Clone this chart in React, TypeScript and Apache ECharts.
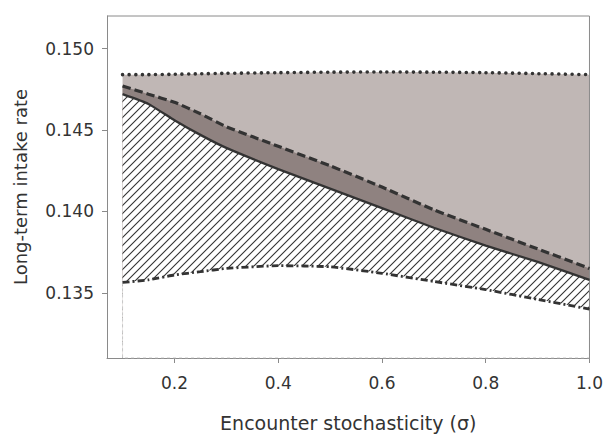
import React, { useEffect, useRef } from "react";
import * as echarts from "echarts";

const sigma = [0.1, 0.15, 0.2, 0.25, 0.3, 0.4, 0.5, 0.6, 0.7, 0.8, 0.9, 1.0];
const dottedUpper = [0.1484, 0.1484, 0.14842, 0.14845, 0.14848, 0.14852, 0.14855, 0.14856, 0.14855, 0.14852, 0.14846, 0.1484];
const dashedLine = [0.1477, 0.1472, 0.1467, 0.146, 0.1452, 0.144, 0.1428, 0.1415, 0.1401, 0.1389, 0.1377, 0.1365];
const solidLine = [0.1472, 0.1466, 0.1456, 0.1447, 0.1439, 0.1426, 0.1414, 0.1402, 0.139, 0.1379, 0.1369, 0.1358];
const dashDotLower = [0.13564, 0.1358, 0.1361, 0.1363, 0.1365, 0.13667, 0.1366, 0.1362, 0.1357, 0.1352, 0.1346, 0.134];

const xTicks = [0.2, 0.4, 0.6, 0.8, 1.0];
const yTicks = [0.135, 0.14, 0.145, 0.15];
const xMin = 0.07;
const xMax = 1.0;
const yMin = 0.131;
const yMax = 0.152;

const pair = (ys: number[]) => sigma.map((x, i) => [x, ys[i]]);

function hatchCanvas() {
  const s = 8;
  const c = document.createElement("canvas");
  c.width = s;
  c.height = s;
  const ctx = c.getContext("2d")!;
  ctx.fillStyle = "#ffffff";
  ctx.fillRect(0, 0, s, s);
  ctx.strokeStyle = "#333333";
  ctx.lineWidth = 1.1;
  ctx.beginPath();
  ctx.moveTo(-1, s + 1);
  ctx.lineTo(s + 1, -1);
  ctx.moveTo(-1, 1);
  ctx.lineTo(1, -1);
  ctx.moveTo(s - 1, s + 1);
  ctx.lineTo(s + 1, s - 1);
  ctx.stroke();
  return c;
}

export default function App() {
  const ref = useRef<HTMLDivElement>(null);
  useEffect(() => {
    const chart = echarts.init(ref.current!, undefined, { renderer: "svg" });
    const font = "DejaVu Sans";
    const axisGray = "#8a8a8a";
    const lineColor = "#333333";
    const smooth = 0.15;
    const areaSeries = (ys: number[], color: any) => ({
      type: "line",
      data: pair(ys),
      smooth,
      showSymbol: false,
      silent: true,
      lineStyle: { width: 0, opacity: 0 },
      areaStyle: { color, opacity: 1, origin: "start" },
    });
    const lineSeries = (ys: number[], width: number, type: any, cap = "butt") => ({
      type: "line",
      data: pair(ys),
      smooth,
      showSymbol: false,
      silent: true,
      lineStyle: { color: lineColor, width, type, cap },
    });
    const frameSeries = (pts: number[][]) => ({
      type: "line",
      data: pts,
      showSymbol: false,
      silent: true,
      clip: false,
      lineStyle: { color: axisGray, width: 1, type: "solid" },
    });
    chart.setOption({
      animation: false,
      textStyle: { fontFamily: font },
      grid: { left: 107, right: 13, top: 16, bottom: 74 },
      xAxis: {
        type: "value",
        min: xMin,
        max: xMax,
        name: "Encounter stochasticity (σ)",
        nameLocation: "middle",
        nameGap: 55,
        nameTextStyle: { fontSize: 19, color: "#333", fontFamily: font },
        axisLine: { show: true, lineStyle: { color: axisGray, width: 1 } },
        axisTick: { show: true, length: 5, lineStyle: { color: axisGray }, customValues: xTicks },
        axisLabel: {
          fontSize: 17,
          color: "#333",
          margin: 16,
          customValues: xTicks,
          formatter: (v: number) => v.toFixed(1),
        },
        splitLine: { show: false },
      },
      yAxis: {
        type: "value",
        min: yMin,
        max: yMax,
        name: "Long-term intake rate",
        nameLocation: "middle",
        nameGap: 78,
        nameTextStyle: { fontSize: 18, color: "#333", fontFamily: font },
        axisLine: { show: true, lineStyle: { color: axisGray, width: 1 } },
        axisTick: { show: true, length: 5, lineStyle: { color: axisGray }, customValues: yTicks },
        axisLabel: {
          fontSize: 17,
          color: "#333",
          margin: 13,
          customValues: yTicks,
          formatter: (v: number) => v.toFixed(3),
        },
        splitLine: { show: false },
      },
      series: [
        areaSeries(dottedUpper, "#c0b7b5"),
        areaSeries(dashedLine, "#8f8280"),
        areaSeries(solidLine, { image: hatchCanvas(), repeat: "repeat" }),
        areaSeries(dashDotLower, "#ffffff"),
        {
          type: "line",
          data: [
            [sigma[0], dashDotLower[0]],
            [sigma[0], yMin],
            [sigma[sigma.length - 1], yMin],
          ],
          showSymbol: false,
          silent: true,
          lineStyle: { color: "#c8c8c8", width: 1, type: [3, 3] },
        },
        frameSeries([
          [xMin, yMax],
          [xMax, yMax],
          [xMax, yMin],
        ]),
        lineSeries(dottedUpper, 3.6, [0.01, 6.6], "round"),
        lineSeries(dashedLine, 3.2, [8.5, 4]),
        lineSeries(solidLine, 2.3, "solid"),
        lineSeries(dashDotLower, 2.8, [7, 3, 2, 3]),
      ],
    });
    return () => chart.dispose();
  }, []);
  return (
    <div
      ref={ref}
      style={{ position: "absolute", left: 0, top: 0, width: 606, height: 437 }}
    />
  );
}
